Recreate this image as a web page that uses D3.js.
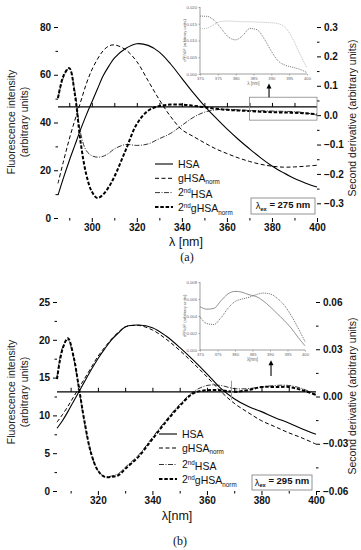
<!DOCTYPE html>
<html>
<head>
<meta charset="utf-8">
<script src="https://cdn.jsdelivr.net/npm/d3@7"></script>
<style>
  body { margin: 0; background: #fff; }
  svg { display: block; }
</style>
</head>
<body>
<svg id="chart" width="361" height="550"></svg>
<script>
// ---- panel (a), lambda_ex = 275 nm ----
const wlA = [285, 287.5, 290, 292.5, 295, 297.5, 300, 302.5, 305, 307.5, 310, 315, 320, 325, 330,
  335, 340, 345, 350, 355, 360, 365, 370, 375, 380, 385, 390, 395, 400]
const hsaA = [9.6, 17, 24, 30.5, 37, 43, 48.5, 54, 59.5, 63.5, 67, 71, 73, 72.3, 69.5,
  64.5, 58.5, 52.5, 47, 42, 37.3, 33, 29, 25.2, 21.8, 19, 16.5, 14.6, 13]
const ghsaA = [14.5, 24, 33, 41, 48.5, 56, 62, 66.5, 70, 72, 72.5, 70.5, 65.5, 57.5, 49.5,
  42.5, 37, 34.2, 31.5, 29, 27, 25.2, 23.7, 22.5, 21.7, 21.3, 21.4, 21.7, 22.1]
const d2HsaA = [0.058, 0.13, 0.16, 0.08, -0.06, -0.12, -0.138, -0.143, -0.14, -0.13, -0.115, -0.1, -0.103, -0.098, -0.08,
  -0.062, -0.035, -0.008, 0.01, 0.018, 0.02, 0.018, 0.016, 0.015, 0.014, 0.013, 0.012, 0.008, 0]
const d2GhsaA = [0.058, 0.135, 0.16, 0.07, -0.09, -0.2, -0.26, -0.282, -0.27, -0.245, -0.21, -0.12, -0.03, 0.015, 0.031,
  0.036, 0.036, 0.032, 0.027, 0.022, 0.018, 0.016, 0.014, 0.012, 0.01, 0.009, 0.008, 0.006, 0.003]
const insetWlA = [370, 372, 374, 376, 378, 380, 382, 384, 386, 388, 390, 392, 394, 396, 398, 400]
const insetDarkA = [0.0173, 0.0172, 0.016, 0.0135, 0.011, 0.0102, 0.0115, 0.0136, 0.0132, 0.0105, 0.0068, 0.0038, 0.0026, 0.002, 0.0014, 0.0004]
const insetLightA = [0.0135, 0.0137, 0.0148, 0.0157, 0.0158, 0.0157, 0.0156, 0.0156, 0.0155, 0.0154, 0.0153, 0.015, 0.0138, 0.0105, 0.006, 0.0018]

// ---- panel (b), lambda_ex = 295 nm ----
const wlB = [305, 307, 309, 311, 313, 315, 317.5, 320, 322.5, 325, 327.5, 330, 335, 340,
  345, 350, 355, 360, 365, 370, 375, 380, 385, 390, 395, 400]
const hsaB = [8.3, 9.3, 10.5, 11.8, 13.1, 14.4, 16, 17.5, 18.8, 20, 20.9, 21.7, 21.95, 21.6,
  20.5, 19, 17.3, 15.5, 13.6, 12.2, 11.2, 10.5, 9.7, 9, 8.2, 7.5]
const ghsaB = [9.1, 10.1, 11.2, 12.4, 13.6, 14.8, 16.3, 17.8, 19, 20.1, 21, 21.7, 21.9, 21.3,
  20.1, 18.6, 16.9, 15.1, 13.2, 11.6, 10.4, 9.3, 8.5, 7.7, 7, 6.2]
const d2HsaB = [0.012, 0.031, 0.036, 0.025, 0.005, -0.016, -0.036, -0.047, -0.051, -0.0505, -0.049, -0.045, -0.037, -0.026,
  -0.015, -0.005, 0.003, 0.007, 0.007, 0.005, 0.005, 0.006, 0.007, 0.007, 0.005, 0.001]
const d2GhsaB = [0.011, 0.03, 0.037, 0.026, 0.006, -0.015, -0.036, -0.047, -0.051, -0.051, -0.05, -0.046, -0.038, -0.027,
  -0.016, -0.006, 0.002, 0.004, 0.004, 0.003, 0.004, 0.006, 0.006, 0.006, 0.004, 0.001]
const insetWlB = [370, 372, 374, 376, 378, 380, 382, 384, 386, 388, 390, 392, 394, 396, 398, 400]
const insetStepB = [0.0051, 0.0048, 0.0049, 0.0058, 0.0066, 0.0069, 0.0068, 0.0065, 0.0063, 0.0058, 0.0051, 0.0043, 0.0035, 0.0026, 0.0015, 0.0005]
const insetDotB = [0.0039, 0.0031, 0.003, 0.0038, 0.0049, 0.0057, 0.006, 0.0062, 0.0065, 0.0067, 0.0066, 0.0061, 0.0053, 0.0041, 0.0026, 0.001]

const legendNames = [['HSA', ''], ['gHSA', 'norm'], ['HSA', '', '2'], ['gHSA', 'norm', '2']]

const svg = d3.select('#chart')
const tickFont = 'Liberation Sans, Arial, sans-serif'

function addLabel(sel, base, sub, pre) {
  if (pre) {
    sel.append('tspan').text(pre)
    sel.append('tspan').attr('font-size', '0.6em').attr('dy', '-0.45em').text('nd')
    sel.append('tspan').attr('dy', '0.45em').text(base)
  } else {
    sel.append('tspan').text(base)
  }
  if (sub) {
    sel.append('tspan').attr('font-size', '0.6em').attr('dy', '0.35em').text(sub)
  }
}

function drawPanel(p) {
  let g = svg.append('g')
  let x = d3.scaleLinear().domain(p.xDomain).range([p.left, p.right])
  let yL = d3.scaleLinear().domain(p.yLeft).range([p.bottom, p.top])
  let yR = d3.scaleLinear().domain(p.yRight).range([p.bottom, p.top])

  // axes, ticks outward
  let left = g.append('g').attr('transform', 'translate(' + p.left + ',0)')
  left.call(d3.axisLeft(yL).tickValues(p.leftTicks).tickSize(4).tickPadding(3).tickFormat(d3.format('d')))
  left.append('g').call(d3.axisLeft(yL).tickValues(p.leftMinor).tickSize(2.5).tickFormat(''))
  let right = g.append('g').attr('transform', 'translate(' + p.right + ',0)')
  right.call(d3.axisRight(yR).tickValues(p.rightTicks).tickSize(4).tickPadding(3).tickFormat(d3.format(p.rightFormat)))
  right.append('g').call(d3.axisRight(yR).tickValues(p.rightMinor).tickSize(2.5).tickFormat(''))
  let bottom = g.append('g').attr('transform', 'translate(0,' + p.bottom + ')')
  bottom.call(d3.axisBottom(x).tickValues(p.xTicks).tickSize(4).tickPadding(2).tickFormat(d3.format('d')))
  bottom.append('g').call(d3.axisBottom(x).tickValues(p.xMinor).tickSize(2.5).tickFormat(''))
  g.selectAll('.domain').attr('stroke', '#000').attr('stroke-width', 1.1)
  g.selectAll('.tick line').attr('stroke', '#000')
  g.selectAll('.tick text')
    .attr('font-family', tickFont)
    .attr('font-weight', 'bold')
    .attr('font-size', '10px')
    .attr('fill', '#111')
  left.select('.domain').attr('d', 'M0,' + p.bottom + 'V' + p.top)
  right.select('.domain').attr('d', 'M0,' + p.bottom + 'V' + p.top)
  bottom.select('.domain').attr('d', 'M' + p.left + ',0H' + p.right)
  g.selectAll('g > g > .domain').remove()

  // zero line of the second derivative with upward ticks
  let mid = g.append('g').attr('transform', 'translate(0,' + yR(p.midLine) + ')')
  mid.call(d3.axisTop(x).tickValues(p.midTicks).tickSize(4).tickFormat(''))
  mid.select('.domain').attr('d', 'M' + p.left + ',0H' + p.right).attr('stroke', '#000').attr('stroke-width', 1.2)
  mid.selectAll('.tick line').attr('stroke', '#000')

  // curves
  let lineL = d3.line().x(d => x(d[0])).y(d => yL(d[1])).curve(d3.curveCatmullRom)
  let lineR = d3.line().x(d => x(d[0])).y(d => yR(d[1])).curve(d3.curveCatmullRom)
  let styles = [
    { w: 1.1, dash: null },
    { w: 1, dash: '4,2.5' },
    { w: 0.8, dash: '5,1.5,1,1.5' },
    { w: 2, dash: '3.5,1.8' },
  ]
  let series = [
    { ys: p.hsa, line: lineL, s: styles[0] },
    { ys: p.ghsa, line: lineL, s: styles[1] },
    { ys: p.d2hsa, line: lineR, s: styles[2] },
    { ys: p.d2ghsa, line: lineR, s: styles[3] },
  ]
  series.forEach(function(se) {
    g.append('path')
      .datum(p.wl.map((w, i) => [w, se.ys[i]]))
      .attr('d', se.line)
      .attr('fill', 'none')
      .attr('stroke', '#000')
      .attr('stroke-width', se.s.w)
      .attr('stroke-dasharray', se.s.dash)
  })

  // zoom box / marker and arrow
  if (p.box) {
    g.append('rect')
      .attr('x', x(p.box[0])).attr('y', yR(p.box[3]))
      .attr('width', x(p.box[1]) - x(p.box[0]))
      .attr('height', yR(p.box[2]) - yR(p.box[3]))
      .attr('fill', 'none').attr('stroke', '#888').attr('stroke-width', 0.8)
  }
  if (p.marker) {
    g.append('line')
      .attr('x1', x(p.marker[0])).attr('x2', x(p.marker[0]))
      .attr('y1', yR(p.marker[1])).attr('y2', yR(p.marker[2]))
      .attr('stroke', '#999').attr('stroke-width', 1)
  }
  g.append('line')
    .attr('x1', x(p.arrow[0])).attr('x2', x(p.arrow[0]))
    .attr('y1', yR(p.arrow[1])).attr('y2', yR(p.arrow[2]) + 4)
    .attr('stroke', '#000').attr('stroke-width', 1.1)
  g.append('path')
    .attr('d', 'M' + (x(p.arrow[0]) - 2.5) + ',' + (yR(p.arrow[2]) + 5) +
      'L' + x(p.arrow[0]) + ',' + yR(p.arrow[2]) +
      'L' + (x(p.arrow[0]) + 2.5) + ',' + (yR(p.arrow[2]) + 5) + 'Z')
    .attr('fill', '#000')

  // legend
  let lg = g.append('g').attr('transform', 'translate(' + p.legend[0] + ',' + p.legend[1] + ')')
  legendNames.forEach(function(n, i) {
    let row = lg.append('g').attr('transform', 'translate(0,' + p.legendRows[i] + ')')
    row.append('line').attr('x1', 0).attr('x2', 18).attr('y1', 0).attr('y2', 0)
      .attr('stroke', '#000').attr('stroke-width', styles[i].w).attr('stroke-dasharray', styles[i].dash)
    let t = row.append('text').attr('x', 23).attr('y', 3.5)
      .attr('font-family', tickFont).attr('font-size', '10.5px').attr('fill', '#111')
    addLabel(t, n[0], n[1], n[2])
  })

  // lambda_ex box
  let ex = g.append('g').attr('transform', 'translate(' + p.exBox[0] + ',' + p.exBox[1] + ')')
  ex.append('rect').attr('width', p.exBox[2]).attr('height', p.exBox[3])
    .attr('fill', '#fff').attr('stroke', '#888').attr('stroke-width', 0.9)
  let et = ex.append('text').attr('x', p.exBox[2] / 2).attr('y', p.exBox[3] / 2 + 3)
    .attr('text-anchor', 'middle').attr('font-family', tickFont).attr('font-size', '9.5px')
    .attr('font-weight', 'bold').attr('fill', '#111')
  et.append('tspan').attr('font-weight', 'normal').text('λ')
  et.append('tspan').attr('font-size', '0.6em').attr('dy', '0.35em').text('ex')
  et.append('tspan').attr('dy', '-0.35em').text(' = ' + p.exText)

  // titles
  g.append('text')
    .attr('transform', 'translate(' + 15 + ',' + p.titleY + ') rotate(-90)')
    .attr('text-anchor', 'middle').attr('font-family', tickFont).attr('font-size', '10.5px').attr('fill', '#222')
    .text('Fluorescence intensity')
  g.append('text')
    .attr('transform', 'translate(' + 28 + ',' + p.titleY + ') rotate(-90)')
    .attr('text-anchor', 'middle').attr('font-family', tickFont).attr('font-size', '10.5px').attr('fill', '#222')
    .text('(arbitrary units)')
  g.append('text')
    .attr('transform', 'translate(' + 356 + ',' + p.rightTitleY + ') rotate(-90)')
    .attr('text-anchor', 'middle').attr('font-family', tickFont).attr('font-size', '10.5px').attr('fill', '#222')
    .text('Second derivative (arbitrary units)')
  g.append('text')
    .attr('x', p.xTitle[0]).attr('y', p.xTitle[1])
    .attr('text-anchor', 'middle').attr('font-family', tickFont).attr('font-size', '12.5px').attr('fill', '#111')
    .text(p.xTitleText)
  g.append('text')
    .attr('x', p.caption[0]).attr('y', p.caption[1])
    .attr('text-anchor', 'middle').attr('font-family', 'Liberation Serif, Times New Roman, serif')
    .attr('font-size', '12px').attr('fill', '#111')
    .text(p.captionText)

  drawInset(p.inset)
}

function drawInset(q) {
  let g = svg.append('g')
  let x = d3.scaleLinear().domain([370, 400]).range([q.left, q.right])
  let y = d3.scaleLinear().domain(q.yDomain).range([q.bottom, q.top])
  let ax = g.append('g').attr('transform', 'translate(0,' + q.bottom + ')')
    .call(d3.axisBottom(x).tickValues([370, 375, 380, 385, 390, 395, 400]).tickSize(1.5).tickPadding(1.5).tickFormat(d3.format('d')))
  let ay = g.append('g').attr('transform', 'translate(' + q.left + ',0)')
    .call(d3.axisLeft(y).tickValues(q.yTicks).tickSize(1.5).tickPadding(1.5).tickFormat(d3.format('.3f')))
  g.selectAll('.domain').attr('stroke', '#777').attr('stroke-width', 0.7)
  g.selectAll('.tick line').attr('stroke', '#777').attr('stroke-width', 0.6)
  g.selectAll('.tick text').attr('font-family', tickFont).attr('font-size', '4.2px').attr('fill', '#666')
  ax.select('.domain').attr('d', 'M' + q.left + ',0H' + q.right)
  ay.select('.domain').attr('d', 'M0,' + q.bottom + 'V' + q.top)

  let line = d3.line().x(d => x(d[0])).y(d => y(d[1])).curve(d3.curveMonotoneX)
  q.curves.forEach(function(c) {
    g.append('path')
      .datum(q.wl.map((w, i) => [w, c.ys[i]]))
      .attr('d', line)
      .attr('fill', 'none')
      .attr('stroke', c.color)
      .attr('stroke-width', c.w)
      .attr('stroke-dasharray', c.dash)
  })
  g.append('text')
    .attr('x', (q.left + q.right) / 2).attr('y', q.bottom + 11)
    .attr('text-anchor', 'middle').attr('font-family', tickFont).attr('font-size', '4.5px').attr('fill', '#666')
    .text(q.xLabel)
  g.append('text')
    .attr('transform', 'translate(' + (q.left - 14) + ',' + (q.top + q.bottom) / 2 + ') rotate(-90)')
    .attr('text-anchor', 'middle').attr('font-family', tickFont).attr('font-size', '4.2px').attr('fill', '#666')
    .text('d²F/dλ² (arbitrary units)')
}

drawPanel({
  xDomain: [285, 400], yLeft: [0, 80], yRight: [-0.35, 0.3],
  left: 58, right: 317, top: 27, bottom: 218,
  leftTicks: [0, 20, 40, 60, 80], leftMinor: [10, 30, 50, 70],
  rightTicks: [-0.3, -0.2, -0.1, 0, 0.1, 0.2, 0.3], rightMinor: [-0.25, -0.15, -0.05, 0.05, 0.15, 0.25],
  rightFormat: '.1f',
  xTicks: [300, 320, 340, 360, 380, 400], xMinor: [290, 310, 330, 350, 370, 390],
  midLine: 0.028, midTicks: [290, 300, 310, 320, 330, 340, 350, 360, 370, 380, 390],
  wl: wlA, hsa: hsaA, ghsa: ghsaA, d2hsa: d2HsaA, d2ghsa: d2GhsaA,
  box: [370, 400, -0.017, 0.061], arrow: [378.7, 0.061, 0.108],
  legend: [155, 164], legendRows: [0, 14.3, 28.6, 43],
  exBox: [251, 198, 64, 16], exText: '275 nm',
  titleY: 122, rightTitleY: 118,
  xTitle: [186, 246], xTitleText: 'λ [nm]',
  caption: [187, 261], captionText: '(a)',
  inset: {
    left: 200, right: 307, top: 7, bottom: 74, yDomain: [0, 0.02],
    yTicks: [0, 0.005, 0.01, 0.015, 0.02], wl: insetWlA, xLabel: 'λ [nm]',
    curves: [
      { ys: insetDarkA, color: '#555', w: 0.8, dash: '1,1' },
      { ys: insetLightA, color: '#aaa', w: 0.8, dash: '1,1' },
    ],
  },
})

drawPanel({
  xDomain: [305, 400], yLeft: [0, 25], yRight: [-0.06, 0.06],
  left: 57, right: 316, top: 302, bottom: 491,
  leftTicks: [0, 5, 10, 15, 20, 25], leftMinor: [2.5, 7.5, 12.5, 17.5, 22.5],
  rightTicks: [-0.06, -0.03, 0, 0.03, 0.06], rightMinor: [-0.045, -0.015, 0.015, 0.045],
  rightFormat: '.2f',
  xTicks: [320, 340, 360, 380, 400], xMinor: [310, 330, 350, 370, 390],
  midLine: 0.003, midTicks: [310, 320, 330, 340, 350, 360, 370, 380, 390],
  wl: wlB, hsa: hsaB, ghsa: ghsaB, d2hsa: d2HsaB, d2ghsa: d2GhsaB,
  marker: [369, -0.002, 0.01], arrow: [383.5, 0.013, 0.023],
  legend: [159, 434], legendRows: [0, 14, 30.5, 45],
  exBox: [252, 475, 60, 15], exText: '295 nm',
  titleY: 392, rightTitleY: 396,
  xTitle: [177, 520], xTitleText: 'λ[nm]',
  caption: [180, 545], captionText: '(b)',
  inset: {
    left: 200, right: 305, top: 282, bottom: 350, yDomain: [0, 0.008],
    yTicks: [0, 0.002, 0.004, 0.006, 0.008], wl: insetWlB, xLabel: 'λ[nm]',
    curves: [
      { ys: insetStepB, color: '#777', w: 0.8, dash: null },
      { ys: insetDotB, color: '#444', w: 0.8, dash: '1,1' },
    ],
  },
})
</script>
</body>
</html>
